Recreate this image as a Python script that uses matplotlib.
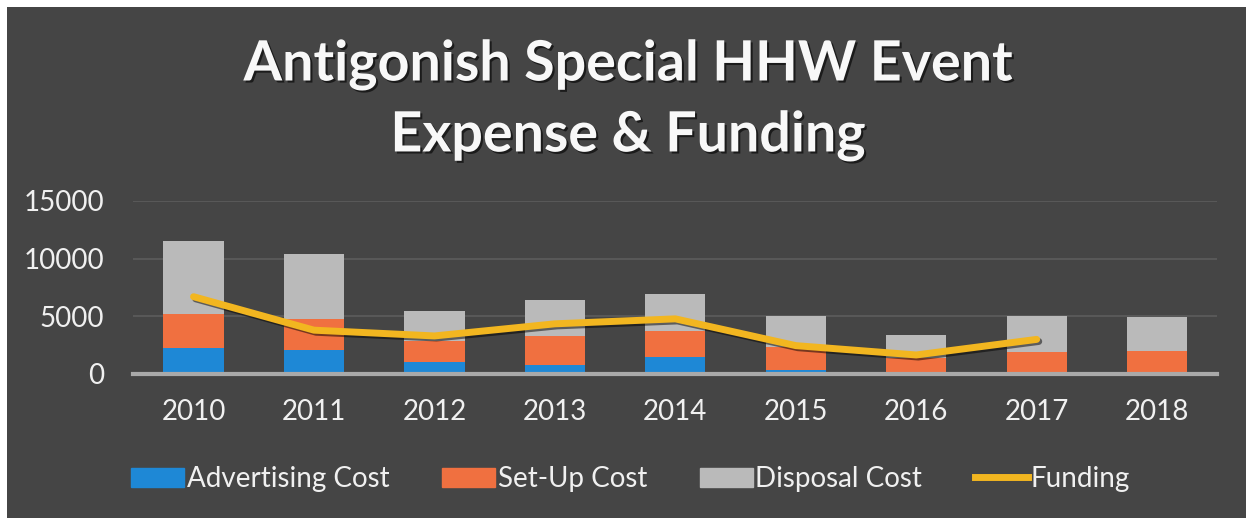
import numpy as np
import matplotlib.pyplot as plt
import matplotlib.patheffects as pe
from matplotlib.patches import Rectangle
from matplotlib.lines import Line2D
from matplotlib.patches import Patch

years = ['2010', '2011', '2012', '2013', '2014', '2015', '2016', '2017', '2018']
advertising = [2270, 2040, 1000, 810, 1500, 350, 0, 0, 0]
setup = [2910, 2710, 1900, 2520, 2270, 1970, 1410, 1870, 2000]
disposal = [6370, 5670, 2600, 3100, 3190, 2750, 1970, 3160, 2940]
funding = [6700, 3800, 3300, 4350, 4780, 2460, 1650, 3000, np.nan]

bg = '#454545'
c_adv = '#1e88d6'
c_set = '#f07040'
c_dis = '#bababa'
c_fund = '#f2b620'

plt.rcParams['font.family'] = ['Lato', 'DejaVu Sans']

fig = plt.figure(figsize=(12.46, 5.18), dpi=100)
fig.patch.set_facecolor('white')
# dark chart panel (the scan leaves a white strip at top and left)
fig.patches.append(Rectangle((7 / 1246, 0), 1, 1 - 7 / 518, transform=fig.transFigure,
                             facecolor=bg, edgecolor='none', zorder=-10))

ax = fig.add_axes([0.107, 0.278, 0.870, 0.334])
ax.set_facecolor('none')
ax.set_zorder(5)

x = np.arange(len(years))
adv = np.array(advertising)
sup = np.array(setup)
dis = np.array(disposal)
w = 0.5
ax.bar(x, adv, w, color=c_adv, zorder=2)
ax.bar(x, sup, w, bottom=adv, color=c_set, zorder=2)
ax.bar(x, dis, w, bottom=adv + sup, color=c_dis, zorder=2)
shadow = [pe.SimpleLineShadow(offset=(1.5, -1.5), shadow_color='black', alpha=0.5),
          pe.Normal()]
ax.plot(x, funding, color=c_fund, lw=5, solid_joinstyle='round',
        solid_capstyle='round', zorder=3, path_effects=shadow)

ax.set_xlim(-0.5, len(years) - 0.5)
ax.set_ylim(0, 15000)
ax.set_yticks([0, 5000, 10000, 15000])
ax.set_xticks(x)
ax.set_xticklabels(years)
ax.grid(axis='y', color='#5c5c5c', lw=1.2, zorder=1)
ax.set_axisbelow(True)
for s in ['top', 'right', 'left']:
    ax.spines[s].set_visible(False)
ax.spines['bottom'].set_color('#a9a9a9')
ax.spines['bottom'].set_linewidth(3)
ax.spines['bottom'].set_zorder(4)
ax.tick_params(length=0, colors='#f0f0f0', labelsize=20)
ax.tick_params(axis='x', pad=18)
ax.tick_params(axis='y', pad=21)

txt_shadow = [pe.withSimplePatchShadow(offset=(1.5, -1.5), shadow_rgbFace='black', alpha=0.6)]
fig.text(0.504, 0.875, 'Antigonish Special HHW Event', ha='center', va='center',
         fontsize=40, fontweight='bold', color='#f8f8f8', path_effects=txt_shadow)
fig.text(0.504, 0.738, 'Expense & Funding', ha='center', va='center',
         fontsize=40, fontweight='bold', color='#f8f8f8', path_effects=txt_shadow)

handles = [Patch(color=c_adv), Patch(color=c_set), Patch(color=c_dis),
           Line2D([0], [0], color=c_fund, lw=5)]
labels = ['Advertising Cost', 'Set-Up Cost', 'Disposal Cost', 'Funding']
leg = fig.legend(handles, labels, loc='center', bbox_to_anchor=(0.506, 0.075), ncol=4,
                 frameon=False, fontsize=20, handlelength=1.9, handletextpad=0.1,
                 columnspacing=1.9)
for t in leg.get_texts():
    t.set_color('#f0f0f0')

fig.savefig('out.png', dpi=100, facecolor=fig.get_facecolor())
